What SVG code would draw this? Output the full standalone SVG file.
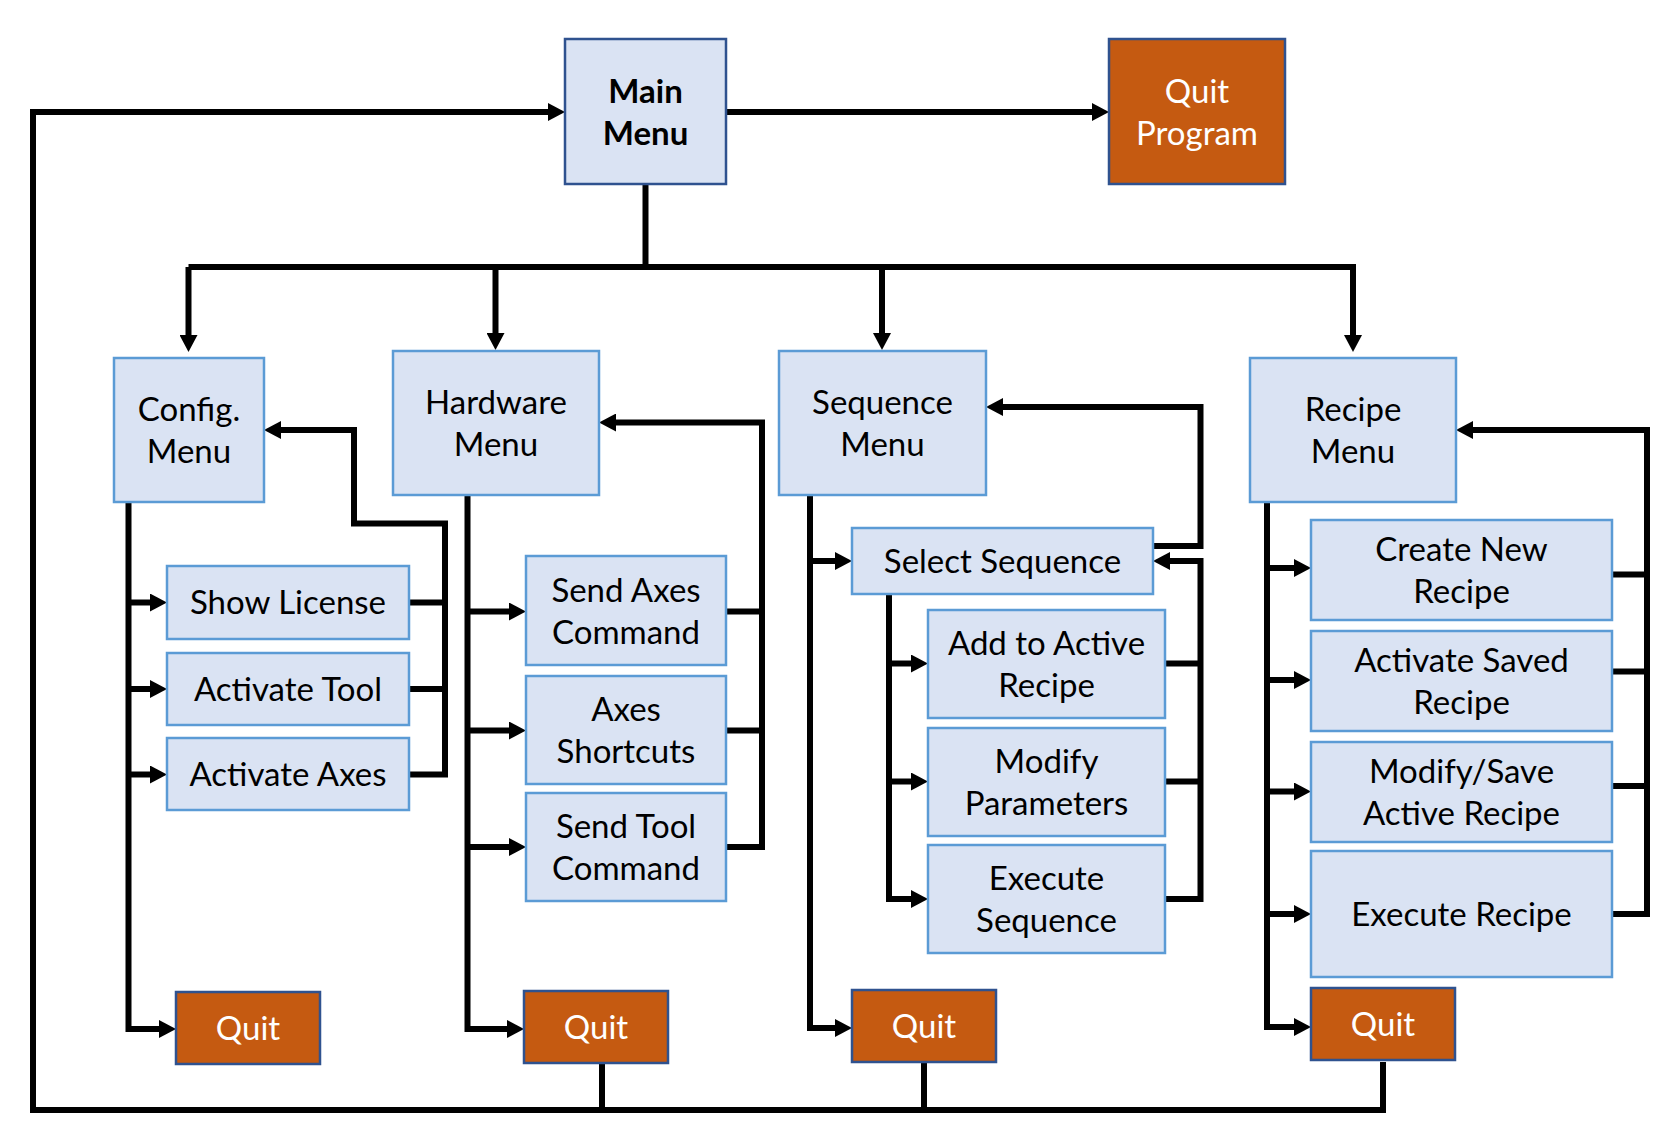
<svg xmlns="http://www.w3.org/2000/svg" width="1680" height="1138" viewBox="0 0 1680 1138">
<style>
.bx{fill:#DAE3F3;stroke:#5B9BD5;stroke-width:2.5}
.mm{fill:#DAE3F3;stroke:#2F528F;stroke-width:2.5}
.qt{fill:#C55A11;stroke:#2F528F;stroke-width:2.5}
.t{font-family:Lato,"Open Sans","Liberation Sans",sans-serif;font-size:33px;fill:#000;text-anchor:middle}
.w{fill:#FFFFFF}
.b{font-weight:bold}
.c{fill:none;stroke:#000;stroke-width:6;stroke-linejoin:miter}
.a{marker-end:url(#ah)}
</style>
<defs>
<marker id="ah" markerUnits="userSpaceOnUse" markerWidth="18" markerHeight="18" refX="7" refY="9" orient="auto">
<path d="M0,0 L17,9 L0,18 z" fill="#000"/>
</marker>
</defs>
<rect width="1680" height="1138" fill="#FFFFFF"/>
<g id="connectors">
<path class="c a" d="M726,112 H1099"/>
<path class="c a" d="M1383,1062 V1110 H33 V112 H555"/>
<path class="c" d="M602,1063 V1110"/>
<path class="c" d="M924,1062 V1110"/>
<path class="c" d="M645.5,184 V267"/>
<path class="c" d="M188.5,267 H1353"/>
<path class="c a" d="M188.5,267 V342"/>
<path class="c a" d="M495.5,267 V340"/>
<path class="c a" d="M882,267 V340"/>
<path class="c a" d="M1353,264 V342"/>
<path class="c a" d="M128.5,497 V1029 H166"/>
<path class="c a" d="M128.5,602.5 H157"/>
<path class="c a" d="M128.5,689 H157"/>
<path class="c a" d="M128.5,774.5 H157"/>
<path class="c a" d="M409,774.5 H445 V523.5 H354 V430 H274"/>
<path class="c" d="M409,602.5 H445"/>
<path class="c" d="M409,689 H445"/>
<path class="c a" d="M467.5,491.5 V1029 H514"/>
<path class="c a" d="M467.5,611.5 H516"/>
<path class="c a" d="M467.5,730.5 H516"/>
<path class="c a" d="M467.5,847 H516"/>
<path class="c a" d="M726,847 H762 V422.5 H609"/>
<path class="c" d="M726,611.5 H762"/>
<path class="c" d="M726,730.5 H762"/>
<path class="c a" d="M810,491 V1028 H842"/>
<path class="c a" d="M810,561 H842"/>
<path class="c a" d="M1153,546 H1200.5 V407 H996"/>
<path class="c a" d="M889,594 V899 H918"/>
<path class="c a" d="M889,663.5 H918"/>
<path class="c a" d="M889,781.5 H918"/>
<path class="c a" d="M1165,899 H1200.5 V561 H1163"/>
<path class="c" d="M1165,663.5 H1200.5"/>
<path class="c" d="M1165,781.5 H1200.5"/>
<path class="c a" d="M1267,500 V1027 H1301"/>
<path class="c a" d="M1267,568 H1301"/>
<path class="c a" d="M1267,680 H1301"/>
<path class="c a" d="M1267,791.5 H1301"/>
<path class="c a" d="M1267,914 H1301"/>
<path class="c a" d="M1612,914 H1647 V430 H1466"/>
<path class="c" d="M1612,574.5 H1647"/>
<path class="c" d="M1612,671.5 H1647"/>
<path class="c" d="M1608,786 H1647"/>
</g>
<g id="main-menu"><rect class="mm" x="565" y="39" width="161" height="145"/><text class="t b" x="645.5" y="103">Main</text><text class="t b" x="645.5" y="145">Menu</text></g>
<g id="quit-program"><rect class="qt" x="1109" y="39" width="176" height="145"/><text class="t w" x="1197" y="103">Quit</text><text class="t w" x="1197" y="145">Program</text></g>
<g id="config-menu"><rect class="bx" x="114" y="358" width="150" height="144"/><text class="t" x="189" y="421">Config.</text><text class="t" x="189" y="463">Menu</text></g>
<g id="hardware-menu"><rect class="bx" x="393" y="351" width="206" height="144"/><text class="t" x="496" y="414">Hardware</text><text class="t" x="496" y="456">Menu</text></g>
<g id="sequence-menu"><rect class="bx" x="779" y="351" width="207" height="144"/><text class="t" x="882.5" y="414">Sequence</text><text class="t" x="882.5" y="456">Menu</text></g>
<g id="recipe-menu"><rect class="bx" x="1250" y="358" width="206" height="144"/><text class="t" x="1353" y="421">Recipe</text><text class="t" x="1353" y="463">Menu</text></g>
<g id="show-license"><rect class="bx" x="167" y="566" width="242" height="73"/><text class="t" x="288" y="614">Show License</text></g>
<g id="activate-tool"><rect class="bx" x="167" y="653" width="242" height="72"/><text class="t" x="288" y="701">Activate Tool</text></g>
<g id="activate-axes"><rect class="bx" x="167" y="738" width="242" height="72"/><text class="t" x="288" y="786">Activate Axes</text></g>
<g id="send-axes-command"><rect class="bx" x="526" y="556" width="200" height="109"/><text class="t" x="626" y="602">Send Axes</text><text class="t" x="626" y="644">Command</text></g>
<g id="axes-shortcuts"><rect class="bx" x="526" y="676" width="200" height="108"/><text class="t" x="626" y="721">Axes</text><text class="t" x="626" y="763">Shortcuts</text></g>
<g id="send-tool-command"><rect class="bx" x="526" y="793" width="200" height="108"/><text class="t" x="626" y="838">Send Tool</text><text class="t" x="626" y="880">Command</text></g>
<g id="select-sequence"><rect class="bx" x="852" y="528" width="301" height="66"/><text class="t" x="1002.5" y="573">Select Sequence</text></g>
<g id="add-to-active-recipe"><rect class="bx" x="928" y="610" width="237" height="108"/><text class="t" x="1046.5" y="655">Add to Active</text><text class="t" x="1046.5" y="697">Recipe</text></g>
<g id="modify-parameters"><rect class="bx" x="928" y="728" width="237" height="108"/><text class="t" x="1046.5" y="773">Modify</text><text class="t" x="1046.5" y="815">Parameters</text></g>
<g id="execute-sequence"><rect class="bx" x="928" y="845" width="237" height="108"/><text class="t" x="1046.5" y="890">Execute</text><text class="t" x="1046.5" y="932">Sequence</text></g>
<g id="create-new-recipe"><rect class="bx" x="1311" y="520" width="301" height="100"/><text class="t" x="1461.5" y="561">Create New</text><text class="t" x="1461.5" y="603">Recipe</text></g>
<g id="activate-saved-recipe"><rect class="bx" x="1311" y="631" width="301" height="100"/><text class="t" x="1461.5" y="672">Activate Saved</text><text class="t" x="1461.5" y="714">Recipe</text></g>
<g id="modify-save-active-recipe"><rect class="bx" x="1311" y="742" width="301" height="100"/><text class="t" x="1461.5" y="783">Modify/Save</text><text class="t" x="1461.5" y="825">Active Recipe</text></g>
<g id="execute-recipe"><rect class="bx" x="1311" y="851" width="301" height="126"/><text class="t" x="1461.5" y="926">Execute Recipe</text></g>
<g id="quit-config"><rect class="qt" x="176" y="992" width="144" height="72"/><text class="t w" x="248" y="1040">Quit</text></g>
<g id="quit-hardware"><rect class="qt" x="524" y="991" width="144" height="72"/><text class="t w" x="596" y="1039">Quit</text></g>
<g id="quit-sequence"><rect class="qt" x="852" y="990" width="144" height="72"/><text class="t w" x="924" y="1038">Quit</text></g>
<g id="quit-recipe"><rect class="qt" x="1311" y="988" width="144" height="72"/><text class="t w" x="1383" y="1036">Quit</text></g>
</svg>
